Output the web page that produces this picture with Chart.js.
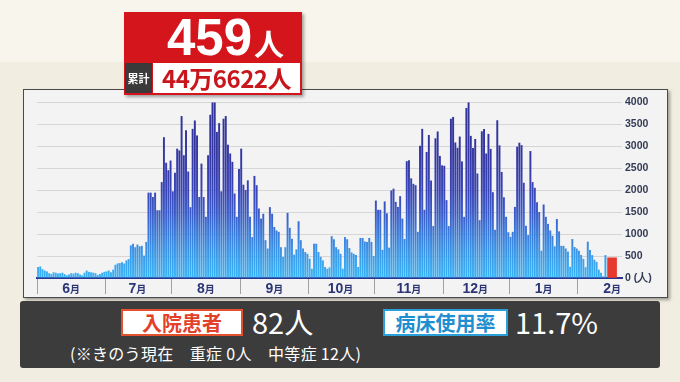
<!DOCTYPE html>
<html>
<head>
<meta charset="utf-8">
<script src="https://cdn.jsdelivr.net/npm/chart.js@4.4.1/dist/chart.umd.min.js"></script>
<style>
  html, body { margin: 0; padding: 0; }
  body {
    width: 680px; height: 382px; overflow: hidden; position: relative;
    background: linear-gradient(#f7f5ec 0, #f7f5ec 62px, #f1ede0 62px);
    font-family: 'Noto Sans CJK JP', sans-serif;
  }
  #panel {
    position: absolute; left: 23px; top: 89px; width: 643px; height: 207px;
    border: 1px solid #4a4a4a; background: #f3f3f3;
    box-shadow: 2px 2px 3px rgba(0,0,0,0.35);
  }
  #panel canvas { position: absolute; left: 0; top: 0; }
  #head {
    position: absolute; left: 124px; top: 12px; width: 178px; height: 83px; z-index: 2;
    background: #d4161c; box-shadow: 2px 2px 3px rgba(0,0,0,0.35);
  }
  #head .big {
    position: absolute; left: 43px; top: 1px; color: #fff; white-space: nowrap;
    font: bold 51px/50px 'Liberation Sans', Arial, sans-serif;
  }
  #head .big span { font: bold 30px 'Noto Sans CJK JP', sans-serif; margin-left: 2px; }
  #head .lbl {
    position: absolute; left: 1px; top: 51px; width: 27px; height: 30px;
    background: #3a3a3a; color: #fff; text-align: center;
    font: bold 11px/30px 'Noto Sans CJK JP', sans-serif;
  }
  #head .tot {
    position: absolute; left: 29px; top: 51px; width: 147px; height: 30px;
    background: #fff; color: #c8161d; text-align: center; white-space: nowrap;
    font: bold 24px/30px 'Noto Sans CJK JP', sans-serif; letter-spacing: -0.5px;
  }
  #info {
    position: absolute; left: 20px; top: 301px; width: 640px; height: 67px;
    background: #3c3c3c; border-radius: 3px;
  }
  .tag {
    position: absolute; top: 8px; height: 23px; background: #fff; text-align: center;
    font: bold 20px/23px 'Noto Sans CJK JP', sans-serif; white-space: nowrap;
  }
  .val {
    position: absolute; top: 5px; color: #fff; white-space: nowrap;
    font: 400 29px/30px 'Noto Sans CJK JP', sans-serif;
  }
  .note {
    position: absolute; left: 50px; top: 42px; color: #fff; white-space: nowrap;
    font: 400 16px/20px 'Noto Sans CJK JP', sans-serif; letter-spacing: 0.3px;
  }
</style>
</head>
<body>
<div id="head">
  <div class="big">459<span>人</span></div>
  <div class="lbl">累計</div>
  <div class="tot">44万6622人</div>
</div>
<div id="panel"><canvas id="myChart" width="643" height="207"></canvas></div>
<div id="info">
  <div class="tag" style="left:101px;width:118px;border:2px solid #e4512f;color:#e3402a;">入院患者</div>
  <div class="val" style="left:232px;">82人</div>
  <div class="tag" style="left:363px;width:121px;border:2px solid #2a9fd8;color:#1f8fd0;">病床使用率</div>
  <div class="val" style="left:495px;">11.7%</div>
  <div class="note">(※きのう現在　重症 0人　中等症 12人)</div>
</div>
<script>
// daily new cases, from 5/17 on
const startDate = new Date(2022, 4, 17)
const dayCount = 265
const dailyCases = [
  250, 260, 200, 170, 150, 110, 90, 130, 120, 100,
  110, 120, 90, 60, 80, 110, 100, 120, 110, 80,
  60, 120, 170, 140, 130, 120, 110, 70, 90, 120,
  140, 150, 170, 130, 190, 300, 330, 340, 360, 330,
  400, 430, 740, 780, 700, 760, 720, 730, 510, 820,
  1940, 1940, 1840, 1940, 1540, 1540, 2180, 3200, 2620, 2450,
  2670, 1970, 2390, 2940, 2900, 3680, 2790, 3360, 2420, 1610,
  3390, 3580, 3240, 1840, 2600, 1840, 1390, 2790, 3710, 3990,
  3990, 3320, 3520, 1970, 3620, 3680, 3030, 2830, 2640, 1920,
  1390, 2480, 2940, 2120, 2000, 2220, 1390, 930, 2320, 2110,
  1580, 1350, 1460, 860, 670, 1610, 1460, 1160, 1080, 1050,
  700, 480, 700, 1480, 1140, 890, 530, 650, 1290, 860,
  670, 590, 550, 440, 210, 780, 780, 590, 480, 400,
  250, 210, 240, 950, 880, 700, 650, 550, 210, 930,
  880, 680, 580, 550, 520, 250, 910, 910, 830, 820,
  910, 820, 500, 1760, 1550, 1550, 640, 1740, 1470, 690,
  1990, 2030, 1730, 1615, 1860, 1350, 885, 2655, 2675, 2265,
  2140, 2110, 1050, 3005, 3390, 1550, 2865, 3250, 2215, 1180,
  3175, 3330, 2775, 2560, 2550, 1770, 1180, 3620, 3660, 3080,
  2960, 3215, 2650, 1390, 3865, 3990, 3230, 2955, 3160, 2375,
  1315, 3335, 3385, 2830, 3275, 2935, 1950, 1095, 3585, 3015,
  2410, 1835, 1390, 1040, 935, 1050, 1615, 2985, 3075, 3020,
  2165, 1185, 975, 2885, 2180, 2050, 1720, 1500, 620, 1670,
  1390, 1230, 1080, 960, 720, 1340, 1060, 730, 730, 670,
  600, 255, 885, 705, 670, 620, 525, 435, 245, 825,
  635, 520, 415, 365, 190, 120, 40, 520
]
const latestLabel = '2/1'
const latestValue = 459
const monthNames = ['1月', '2月', '3月', '4月', '5月', '6月', '7月', '8月', '9月', '10月', '11月', '12月']
const yTicks = [0, 500, 1000, 1500, 2000, 2500, 3000, 3500, 4000]

const labels = []
const monthStarts = []
const dividers = [0]
for (let i = 0; i < dayCount; i++) {
  const d = new Date(startDate)
  d.setDate(d.getDate() + i)
  labels.push((d.getMonth() + 1) + '/' + d.getDate())
  if (d.getDate() === 1) monthStarts.push({ index: i, name: monthNames[d.getMonth()] })
  if (d.getDate() === 17 && i > 0) dividers.push(i)
}

const blueData = labels.map((l, i) => i < dailyCases.length ? dailyCases[i] : null)
const redData = labels.map(l => l === latestLabel ? latestValue : null)

let grad = null
function barGradient(context) {
  const chart = context.chart
  const area = chart.chartArea
  if (!area) return '#3a8ae2'
  if (!grad) {
    grad = chart.ctx.createLinearGradient(0, area.bottom, 0, area.top)
    grad.addColorStop(0, '#39b4f7')
    grad.addColorStop(0.12, '#3a9cea')
    grad.addColorStop(0.25, '#3b7cda')
    grad.addColorStop(0.37, '#3b5bc8')
    grad.addColorStop(0.5, '#3945b6')
    grad.addColorStop(0.7, '#3437a2')
    grad.addColorStop(1, '#2f3296')
  }
  return grad
}

const monthLabelPlugin = {
  id: 'monthLabels',
  afterDraw(chart) {
    const ctx = chart.ctx
    const x = chart.scales.x
    const y = chart.chartArea.bottom + 15
    ctx.save()
    ctx.fillStyle = '#2b3575'
    ctx.textBaseline = 'alphabetic'
    monthStarts.forEach(m => {
      const num = m.name.replace('月', '')
      ctx.font = "bold 14px 'Liberation Sans', sans-serif"
      const w1 = ctx.measureText(num).width
      ctx.font = "bold 10px 'Noto Sans CJK JP', sans-serif"
      const w2 = ctx.measureText('月').width
      const cx = x.getPixelForValue(m.index)
      const left = cx - (w1 + w2) / 2
      ctx.font = "bold 14px 'Liberation Sans', sans-serif"
      ctx.fillText(num, left, y)
      ctx.font = "bold 10px 'Noto Sans CJK JP', sans-serif"
      ctx.fillText('月', left + w1, y)
    })
    ctx.restore()
  }
}

const config = {
  type: 'bar',
  data: {
    labels: labels,
    datasets: [{
      label: '新規感染者',
      data: blueData,
      backgroundColor: barGradient,
      barPercentage: 0.88,
      categoryPercentage: 1.0,
      grouped: false
    }, {
      label: '最新',
      data: redData,
      backgroundColor: '#e63a2e',
      barThickness: 9,
      grouped: false
    }]
  },
  options: {
    responsive: false,
    animation: false,
    layout: { padding: { left: 13, top: 12, right: 0, bottom: 0 } },
    plugins: { legend: { display: false }, tooltip: { enabled: false } },
    scales: {
      x: {
        z: 1,
        offset: true,
        ticks: { display: false, autoSkip: false },
        grid: {
          drawOnChartArea: false,
          offset: true,
          tickLength: 16,
          lineWidth: 1,
          color: c => dividers.includes(c.index) ? '#a0a0a0' : 'rgba(0,0,0,0)'
        },
        border: { display: true, color: '#2b3590', width: 2 },
        afterFit: s => { s.height = 19 }
      },
      y: {
        position: 'right',
        min: 0,
        max: 4000,
        afterBuildTicks: s => { s.ticks = yTicks.map(v => ({ value: v })) },
        ticks: {
          padding: 3,
          color: '#333a55',
          font: { family: "'Liberation Sans', sans-serif", size: 10.5, weight: 'bold' },
          callback: v => v === 0 ? '0 (人)' : v
        },
        grid: { color: '#d6d6d6', drawTicks: false },
        border: { display: false },
        afterFit: s => { s.width = 45 }
      }
    }
  },
  plugins: [monthLabelPlugin]
}

const myChart = new Chart(document.getElementById('myChart'), config)
</script>
</body>
</html>
